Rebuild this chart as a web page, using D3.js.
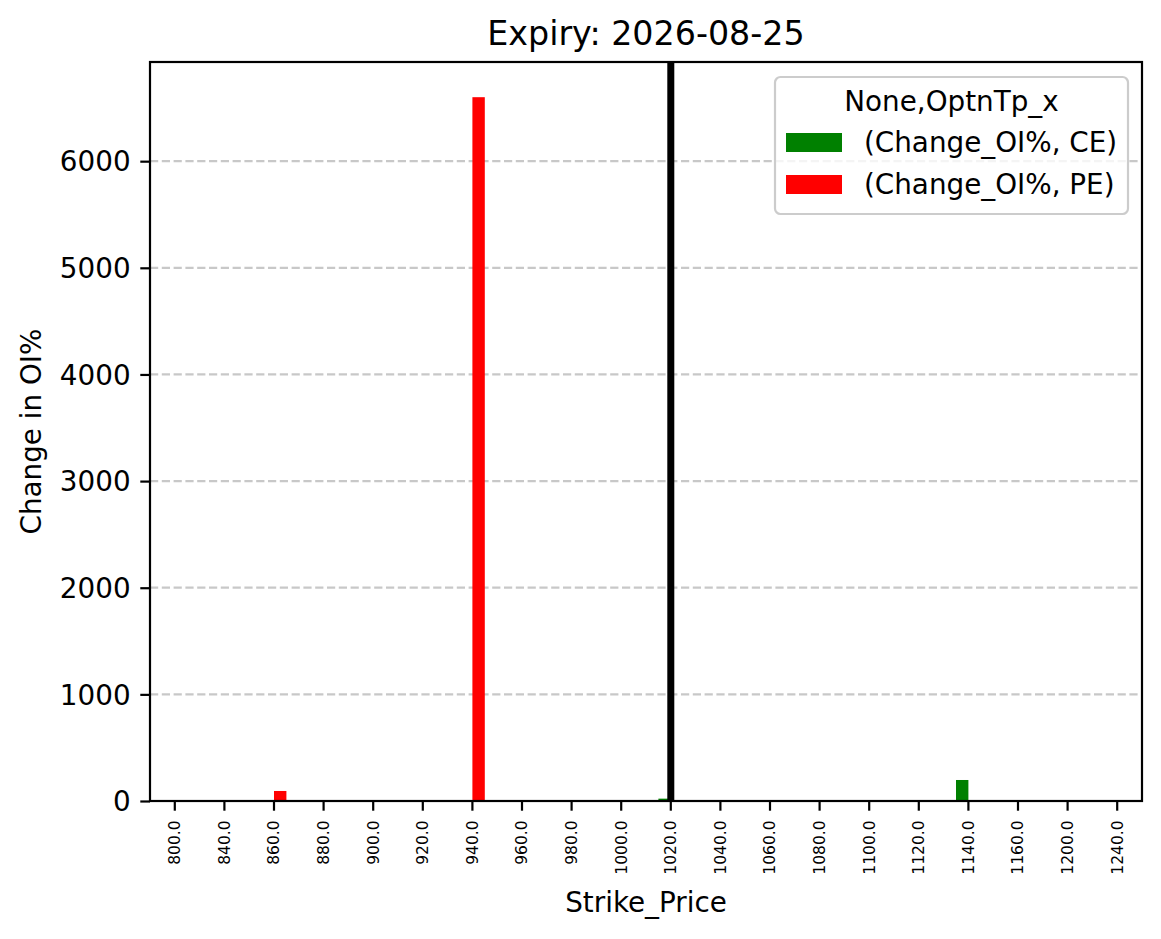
<!DOCTYPE html>
<html>
<head>
<meta charset="utf-8">
<title>Expiry: 2026-08-25</title>
<script src="https://cdn.jsdelivr.net/npm/d3@7"></script>
<style>
	body { margin: 0; background: #fff; }
	svg { display: block; font-family: "DejaVu Sans", sans-serif; }
</style>
</head>
<body>
<div id="chart"></div>
<script>
// Strike_Price categories and Change_OI% per option type
var strikes = ["800.0", "840.0", "860.0", "880.0", "900.0", "920.0", "940.0", "960.0", "980.0", "1000.0",
	"1020.0", "1040.0", "1060.0", "1080.0", "1100.0", "1120.0", "1140.0", "1160.0", "1200.0", "1240.0"];
var ceValues = [0, 0, 0, 0, 0, 0, 0, 0, 0, 0, 22, 0, 0, 0, 0, 0, 197, 0, 0, 0];
var peValues = [0, 0, 94, 0, 0, 0, 6600, 0, 0, 0, 0, 0, 0, 0, 0, 0, 0, 0, 0, 0];
var yTicks = [0, 1000, 2000, 3000, 4000, 5000, 6000];
var spotStrike = "1020.0";
var seriesNames = ["(Change_OI%, CE)", "(Change_OI%, PE)"];
var seriesColors = ["green", "red"];

var width = 1161, height = 939;
var margin = { top: 62, right: 19, bottom: 138, left: 150 };

init();

function init() {
	var svg = d3.select("#chart").append("svg")
		.attr("width", width)
		.attr("height", height);

	var plotW = width - margin.left - margin.right;
	var plotH = height - margin.top - margin.bottom;

	var x = d3.scaleBand().domain(strikes).range([0, plotW]).padding(0);
	var yMax = d3.max(ceValues.concat(peValues)) * 1.05;
	var y = d3.scaleLinear().domain([0, yMax]).range([plotH, 0]);

	var g = svg.append("g").attr("transform", `translate(${margin.left},${margin.top})`);

	// grid
	g.append("g").selectAll("line")
		.data(yTicks)
		.enter().append("line")
		.attr("x1", 0).attr("x2", plotW)
		.attr("y1", d => y(d)).attr("y2", d => y(d))
		.attr("stroke", "#b0b0b0")
		.attr("stroke-opacity", 0.7)
		.attr("stroke-width", 2.2)
		.attr("stroke-dasharray", "8.2,3.6");

	// bars: CE left of tick, PE right of tick
	var barW = x.bandwidth() * 0.25;
	var rows = strikes.map((s, i) => ({ strike: s, ce: ceValues[i], pe: peValues[i] }));

	g.append("g").selectAll("rect")
		.data(rows)
		.enter().append("rect")
		.attr("x", d => x(d.strike) + x.bandwidth() / 2 - barW)
		.attr("y", d => y(d.ce))
		.attr("width", barW)
		.attr("height", d => y(0) - y(d.ce))
		.attr("fill", seriesColors[0]);

	g.append("g").selectAll("rect")
		.data(rows)
		.enter().append("rect")
		.attr("x", d => x(d.strike) + x.bandwidth() / 2)
		.attr("y", d => y(d.pe))
		.attr("width", barW)
		.attr("height", d => y(0) - y(d.pe))
		.attr("fill", seriesColors[1]);

	// spot line
	var sx = x(spotStrike) + x.bandwidth() / 2;
	g.append("line")
		.attr("x1", sx).attr("x2", sx)
		.attr("y1", 0).attr("y2", plotH)
		.attr("stroke", "black")
		.attr("stroke-width", 7);

	// axes
	var xAxis = d3.axisBottom(x).tickSizeOuter(0).tickSize(9.7).tickPadding(9.7);
	var gx = g.append("g")
		.attr("transform", `translate(0,${plotH})`)
		.call(xAxis);
	gx.select(".domain").remove();
	gx.selectAll(".tick line").attr("stroke-width", 2.2);
	gx.selectAll(".tick text")
		.attr("font-family", "DejaVu Sans")
		.attr("font-size", 15.5)
		.attr("fill", "black")
		.attr("text-anchor", "end")
		.attr("transform", "rotate(-90)")
		.attr("x", -19.4)
		.attr("y", 0)
		.attr("dy", "0.35em");

	var yAxis = d3.axisLeft(y).tickValues(yTicks).tickFormat(d3.format("d")).tickSizeOuter(0).tickSize(9.7).tickPadding(9.7);
	var gy = g.append("g").call(yAxis);
	gy.select(".domain").remove();
	gy.selectAll(".tick line").attr("stroke-width", 2.2);
	gy.selectAll(".tick text")
		.attr("font-family", "DejaVu Sans")
		.attr("font-size", 27.8)
		.attr("fill", "black")
		.attr("dy", "0.35em");

	// frame
	g.append("rect")
		.attr("width", plotW).attr("height", plotH)
		.attr("fill", "none")
		.attr("stroke", "black")
		.attr("stroke-width", 2.2);

	// labels
	svg.append("text")
		.attr("x", margin.left + plotW / 2).attr("y", 45)
		.attr("text-anchor", "middle")
		.attr("font-size", 33.3)
		.text("Expiry: 2026-08-25");

	svg.append("text")
		.attr("x", margin.left + plotW / 2).attr("y", 912)
		.attr("text-anchor", "middle")
		.attr("font-size", 27.8)
		.text("Strike_Price");

	svg.append("text")
		.attr("transform", `translate(41,${margin.top + plotH / 2}) rotate(-90)`)
		.attr("text-anchor", "middle")
		.attr("font-size", 27.8)
		.text("Change in OI%");

	drawLegend(svg);
}

function drawLegend(svg) {
	var lg = svg.append("g").attr("transform", "translate(775,77)");
	lg.append("rect")
		.attr("width", 353).attr("height", 137)
		.attr("rx", 5.5).attr("ry", 5.5)
		.attr("fill", "white").attr("fill-opacity", 0.8)
		.attr("stroke", "#cccccc").attr("stroke-width", 2.2);

	lg.append("text")
		.attr("x", 176.5).attr("y", 34)
		.attr("text-anchor", "middle")
		.attr("font-size", 27.8)
		.text("None,OptnTp_x");

	var items = lg.selectAll("g.item")
		.data(seriesNames)
		.enter().append("g")
		.attr("class", "item")
		.attr("transform", (d, i) => `translate(0,${56 + i * 42})`);

	items.append("rect")
		.attr("x", 11).attr("width", 56).attr("height", 19)
		.attr("fill", (d, i) => seriesColors[i]);

	items.append("text")
		.attr("x", 89).attr("y", 19)
		.attr("font-size", 27.8)
		.text(d => d);
}
</script>
</body>
</html>
